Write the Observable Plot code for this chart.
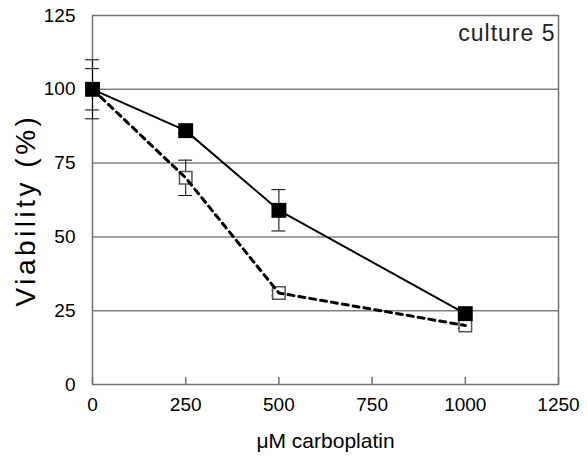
<!DOCTYPE html>
<html>
<head>
<meta charset="utf-8">
<script src="https://cdn.jsdelivr.net/npm/d3@7"></script>
<script src="https://cdn.jsdelivr.net/npm/@observablehq/plot@0.6"></script>
<style>
  html, body { margin: 0; padding: 0; background: #fff; }
  #chart svg { display: block; }
</style>
</head>
<body>
<div id="chart"></div>
<script>
const doses = [0, 250, 500, 1000];
const filledValues = [100, 86, 59, 24];
const filledErrors = [10, 1, 7, 1];
const openValues = [100, 70, 31, 20];
const openErrors = [7, 6, 1, 1];
const xTicks = [0, 250, 500, 750, 1000, 1250];
const yTicks = [0, 25, 50, 75, 100, 125];
const gridValues = [25, 50, 75, 100];
const panelLabel = "culture 5";
const xTitle = "μM carboplatin";
const yTitle = "Viability (%)";

const filled = doses.map((x, i) => ({x, y: filledValues[i], lo: filledValues[i] - filledErrors[i], hi: filledValues[i] + filledErrors[i]}));
const open = doses.map((x, i) => ({x, y: openValues[i], lo: openValues[i] - openErrors[i], hi: openValues[i] + openErrors[i]}));
const bars = [...open, ...filled];

const font = "'Liberation Sans', Arial, sans-serif";

const chart = Plot.plot({
  width: 587,
  height: 456,
  marginLeft: 92,
  marginRight: 29,
  marginTop: 15,
  marginBottom: 72,
  style: {fontFamily: font, background: "#fff", overflow: "visible"},
  x: {domain: [0, 1250], label: null},
  y: {domain: [0, 125], label: null},
  marks: [
    Plot.ruleY(gridValues, {stroke: "#808080", strokeWidth: 1.5}),
    Plot.frame({stroke: "#707070", strokeWidth: 1.5}),
    Plot.ruleX(xTicks, {x: d => d, y1: () => 0, insetTop: -7, stroke: "#707070", strokeWidth: 1.5}),
    Plot.axisX({ticks: xTicks, tickFormat: d => String(d), tickSize: 0, tickPadding: 13, fontSize: 19, fill: "#000", label: null}),
    Plot.axisY({ticks: yTicks, tickFormat: d => String(d), tickSize: 0, tickPadding: 17, fontSize: 19, fill: "#000", label: null}),
    Plot.ruleX(bars, {x: "x", y1: "lo", y2: "hi", stroke: "#000", strokeWidth: 1}),
    Plot.ruleY(bars, {x1: "x", x2: "x", y: "lo", stroke: "#000", strokeWidth: 1, insetLeft: -7, insetRight: -7}),
    Plot.ruleY(bars, {x1: "x", x2: "x", y: "hi", stroke: "#000", strokeWidth: 1, insetLeft: -7, insetRight: -7}),
    Plot.dot(open, {x: "x", y: "y", symbol: "square", r: 7.05, fill: "#fff", stroke: "#555", strokeWidth: 1.5}),
    Plot.line(open, {x: "x", y: "y", stroke: "#000", strokeWidth: 3, strokeDasharray: "6,5"}),
    Plot.line(filled, {x: "x", y: "y", stroke: "#000", strokeWidth: 2}),
    Plot.dot(filled, {x: "x", y: "y", symbol: "square", r: 8.4, fill: "#000", stroke: "none"}),
    Plot.text([panelLabel], {frameAnchor: "top-right", dx: -3, dy: 9, fontSize: 23, fill: "#222", textAnchor: "end", lineAnchor: "top"}),
    Plot.text([xTitle], {frameAnchor: "bottom", dy: 49, fontSize: 21, fill: "#000", lineAnchor: "top"}),
    Plot.text([yTitle], {frameAnchor: "left", dx: -66, dy: 10, rotate: -90, textAnchor: "middle", fontSize: 28, fill: "#000"})
  ]
});
d3.select(chart).selectAll("text").each(function() {
  const t = this.textContent;
  if (t === yTitle) d3.select(this).attr("letter-spacing", "3.5px");
  if (t === panelLabel) d3.select(this).attr("letter-spacing", "1px");
});
document.getElementById("chart").appendChild(chart);
</script>
</body>
</html>
